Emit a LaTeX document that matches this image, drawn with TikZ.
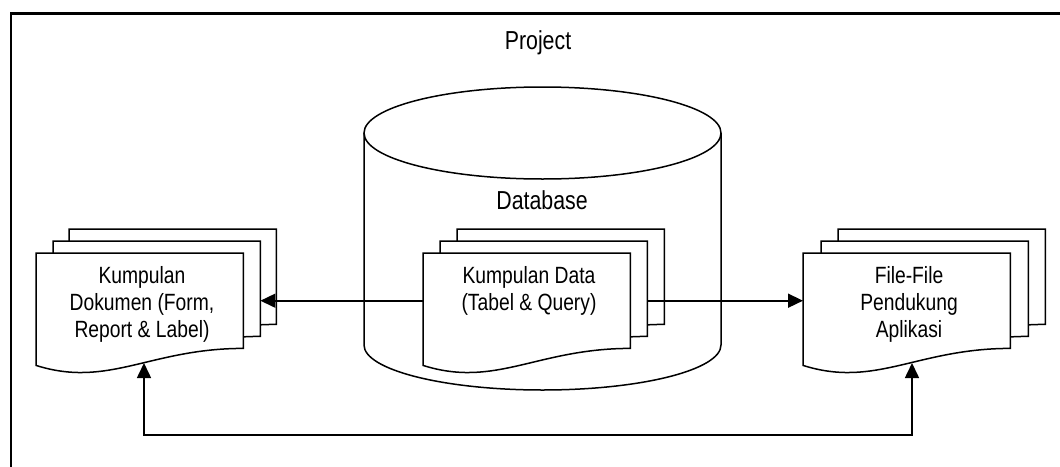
\documentclass[tikz,border=0pt]{standalone}
\usepackage{fontspec}
\setmainfont{Liberation Sans}[FakeStretch=0.82]
\usetikzlibrary{calc,arrows.meta}
\tikzset{
  shapeline/.style={line width=1.5pt, draw=black, fill=white},
  docbox/.style={rectangle, inner sep=0pt, minimum width=207pt, minimum height=95pt, anchor=north west},
  doctext/.style={anchor=north, inner sep=0pt, align=center, font=\fontsize{23.5}{27}\selectfont},
  bigtext/.style={anchor=base, inner sep=0pt, font=\fontsize{26}{30}\selectfont},
  conn/.style={line width=1.6pt, -{Triangle[length=15pt,width=14pt]}},
  conn2/.style={line width=1.6pt, {Triangle[length=15pt,width=14pt]}-{Triangle[length=15pt,width=14pt]}},
}
\newcommand\docpath[1]{\filldraw[shapeline] (#1.north west) -- (#1.north east) -- (#1.south east)
  .. controls ($(#1.south west)!0.55!(#1.south east)$) and ($(#1.south west)!0.35!(#1.south east)+(0,40)$) .. ($(#1.south west)+(0,17)$) -- cycle;}
\begin{document}
\begin{tikzpicture}[x=1pt,y=-1pt]
\useasboundingbox (0,0) rectangle (1060,466);
\clip (0,0) rectangle (1060,466);
% frame
\draw[line width=2.2pt] (11,480) -- (11,13.5) -- (1075,13.5);
\node[bigtext] (project) at (538,49) {Project};
% cylinder
\fill[white] (364,133) -- (364,345) arc[start angle=180,end angle=0,x radius=178.5,y radius=45] -- (721,133) -- cycle;
\draw[line width=1.5pt] (364,133) -- (364,345) arc[start angle=180,end angle=0,x radius=178.5,y radius=45] -- (721,133);
\draw[line width=1.5pt] (542.5,133) ellipse [x radius=178.5, y radius=46];
\node[bigtext] (database) at (542,209) {Database};
% left stack
\node[docbox] (L1) at (69,229) {}; \docpath{L1}
\node[docbox] (L2) at (53,241) {}; \docpath{L2}
\node[docbox] (L3) at (36,253) {}; \docpath{L3}
% center stack
\node[docbox] (C1) at (457,229) {}; \docpath{C1}
\node[docbox] (C2) at (440,241) {}; \docpath{C2}
\node[docbox] (C3) at (423,253) {}; \docpath{C3}
% right stack
\node[docbox] (R1) at (838,229) {}; \docpath{R1}
\node[docbox] (R2) at (821,241) {}; \docpath{R2}
\node[docbox] (R3) at (803,253) {}; \docpath{R3}
% texts
\node[doctext] (tL) at (142,266) {Kumpulan\\Dokumen (Form,\\Report \& Label)};
\node[doctext] (tC) at (529,266) {Kumpulan Data\\(Tabel \& Query)};
\node[doctext] (tR) at (909,266) {File-File\\Pendukung\\Aplikasi};
% connectors
\draw[conn] (C3.west) -- (C3.west -| L2.east);
\draw[conn] (C3.west -| C2.east) -- (R3.west);
\coordinate (Lw) at (144,363);
\coordinate (Rw) at (912,363);
\draw[conn2] (Lw) -- ++(0,72) -| (Rw);
\end{tikzpicture}
\end{document}
